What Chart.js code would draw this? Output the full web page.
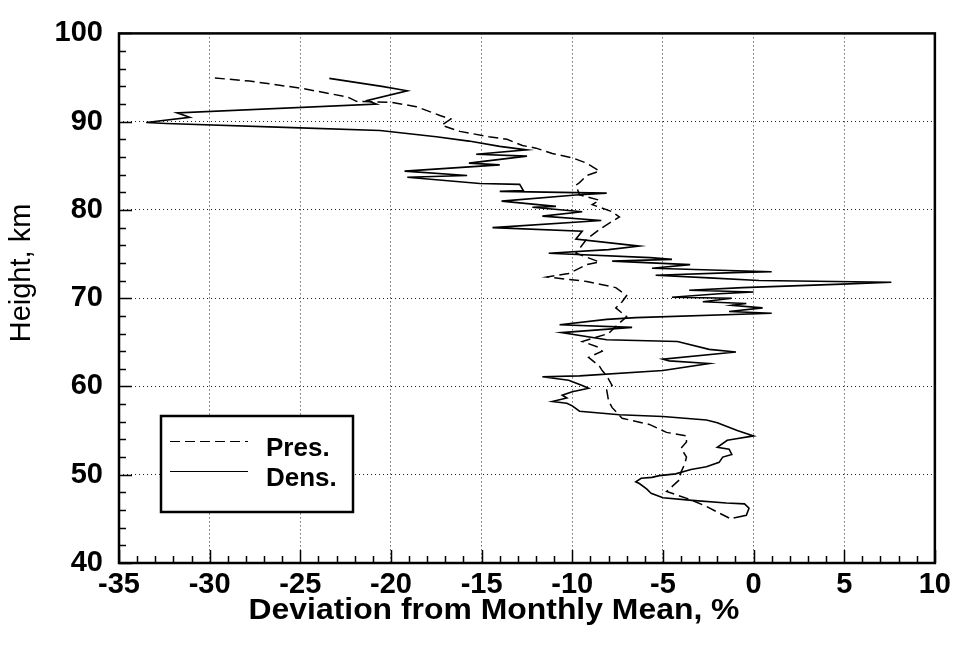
<!DOCTYPE html>
<html>
<head>
<meta charset="utf-8">
<script src="https://cdn.jsdelivr.net/npm/chart.js@4.4.0/dist/chart.umd.min.js"></script>
<style>
  html, body { margin: 0; padding: 0; background: #fff; }
  #wrap { width: 956px; height: 654px; }
</style>
</head>
<body>
<div id="wrap"><canvas id="c" width="956" height="654"></canvas></div>
<script>
// Axis ranges and tick steps
const xRange = [-35, 10];
const yRange = [40, 100];
const xStep = 5;
const yStep = 10;

// Axis titles
const xTitle = 'Deviation from Monthly Mean, %';
const yTitle = 'Height, km';

// Pressure deviation profile (%), with matching heights (km)
const presDev = [-1.35, -2.6, -3.5, -4.8, -4.1, -4.0, -3.8, -3.7, -4.0, -3.7, -3.7, -4.8, -5.75, -7.25, -7.8, -8.0,
  -8.1, -7.8, -8.1, -8.35, -8.5, -9.1, -8.35, -8.5, -9.45, -8.0, -7.5, -7.0, -7.6, -7.25, -7.0, -7.6, -9.2, -11.4,
  -10.2, -9.2, -8.5, -9.8, -9.2, -8.5, -7.8, -7.4, -7.8, -8.9, -8.5, -9.6, -9.8, -9.6, -9.2, -8.5, -9.2, -10.0,
  -11.1, -12.0, -12.75, -13.6, -14.6, -16.2, -17.2, -16.7, -17.3, -18.6, -20.0, -21.9, -22.4, -25.0, -27.8, -30.0];
const presHeight = [45.1, 46.4, 47.2, 48.1, 49.4, 50.3, 51.2, 52.0, 53.0, 53.7, 54.4, 54.8, 55.7, 56.4, 57.6, 58.4,
  59.6, 60.1, 61.2, 61.8, 62.3, 63.3, 64.0, 64.4, 65.1, 66.0, 67.0, 67.9, 68.9, 69.6, 70.3, 71.2, 71.9, 72.4,
  72.8, 73.8, 74.1, 75.1, 76.7, 77.8, 78.7, 79.2, 79.8, 80.6, 81.1, 81.7, 82.8, 83.1, 83.9, 84.4, 85.3, 85.9,
  86.4, 87.0, 87.3, 88.0, 88.3, 88.9, 89.6, 90.3, 90.7, 91.7, 92.2, 92.3, 92.8, 93.8, 94.6, 95.0];

// Density deviation profile (%), with matching heights (km)
const densDev = [-1.1, -0.4, -0.25, -0.5, -1.5, -3.4, -5.0, -5.65, -5.9, -6.3, -6.5, -6.2, -5.6, -5.2, -4.3, -3.45,
  -2.6, -1.9, -1.7, -1.2, -1.35, -2.0, -1.45, -1.2, 0.0, -0.9, -2.0, -2.6, -5.0, -7.4, -9.6, -10.0, -10.3, -11.1,
  -10.3, -10.55, -10.0, -9.1, -9.45, -10.2, -11.65, -9.6, -5.0, -2.45, -4.65, -5.0, -0.97, -2.45, -4.2, -8.1,
  -10.6, -6.7, -10.7, -8.1, -6.5, 1.0, -1.35, 0.5, -1.2, -0.4, -2.8, -1.2, -4.5, -1.9, 0.0, -3.55, -0.6, 4.9, 7.6,
  0.3, -2.45, -5.4, -1.1, 1.0, -5.6, -3.5, -7.8, -4.5, -5.7, -11.3, -8.0, -6.3, -9.8, -9.45, -14.4, -8.4, -11.65,
  -9.45, -12.2, -10.9, -13.9, -9.8, -8.1, -14.0, -12.7, -12.9, -15.1, -19.1, -15.8, -19.25, -14.0, -15.7, -12.5,
  -15.3, -12.5, -14.0, -15.7, -17.5, -20.6, -25.0, -32.4, -33.5, -31.1, -31.8, -20.8, -21.3, -19.1, -20.5, -23.4];
const densHeight = [45.1, 45.4, 46.2, 46.7, 46.8, 47.1, 47.4, 47.9, 48.4, 49.0, 49.2, 49.6, 49.7, 49.9, 50.1, 50.6,
  50.9, 51.4, 52.0, 52.3, 52.9, 53.1, 53.9, 54.0, 54.4, 55.0, 55.9, 56.2, 56.6, 56.8, 57.2, 57.8, 58.1, 58.3,
  58.7, 59.0, 59.4, 59.8, 60.1, 60.7, 61.1, 61.2, 61.8, 62.6, 62.9, 63.1, 63.9, 64.2, 65.1, 65.3,
  66.1, 66.7, 67.0, 67.6, 67.8, 68.3, 68.5, 68.9, 69.2, 69.4, 69.6, 70.0, 70.1, 70.5, 70.7, 70.9, 71.2, 71.6, 71.8,
  72.0, 72.3, 72.6, 72.9, 73.0, 73.4, 73.8, 74.2, 74.4, 74.6, 75.1, 75.5, 75.9, 76.7, 77.6, 78.0, 78.8, 79.3,
  79.8, 80.3, 80.4, 81.0, 81.7, 81.9, 82.1, 82.2, 82.9, 83.0, 83.7, 83.9, 84.4, 85.1, 85.3, 86.1,
  86.3, 86.8, 87.2, 87.8, 88.3, 89.0, 89.3, 89.8, 89.9, 90.5, 91.0, 92.0, 92.4, 93.5, 94.0, 94.9];

const seriesLabels = ['Pres.', 'Dens.'];

const FONT = "'Liberation Sans', Arial, Helvetica, sans-serif";

const toPoints = (xs, ys) => xs.map((v, i) => ({ x: v, y: ys[i] }));

// Frame, inward tick marks, axis titles and the boxed legend
const framePlugin = {
  id: 'frame',
  afterDatasetsDraw(chart) {
    const { ctx, chartArea: a, scales } = chart;
    const xs = scales.x, ys = scales.y;
    ctx.save();
    ctx.strokeStyle = '#000';
    ctx.lineWidth = 1.5;
    for (let v = xRange[0]; v <= xRange[1]; v += 1) {
      const px = Math.round(xs.getPixelForValue(v)) + 0.5;
      const len = (v % xStep === 0) ? 13 : 7;
      ctx.beginPath(); ctx.moveTo(px, a.bottom); ctx.lineTo(px, a.bottom - len); ctx.stroke();
    }
    for (let v = yRange[0]; v <= yRange[1]; v += 2) {
      const py = Math.round(ys.getPixelForValue(v)) + 0.5;
      const len = (v % yStep === 0) ? 13 : 7;
      ctx.beginPath(); ctx.moveTo(a.left, py); ctx.lineTo(a.left + len, py); ctx.stroke();
    }
    ctx.lineWidth = 2.5;
    ctx.strokeRect(a.left, a.top, a.right - a.left, a.bottom - a.top);

    // axis titles
    ctx.fillStyle = '#000';
    ctx.textAlign = 'center';
    ctx.textBaseline = 'middle';
    ctx.save();
    ctx.translate(494, 611);
    ctx.scale(1.1, 1);
    ctx.font = 'bold 29px ' + FONT;
    ctx.fillText(xTitle, 0, 0);
    ctx.restore();
    ctx.save();
    ctx.translate(22, 273);
    ctx.rotate(-Math.PI / 2);
    ctx.font = '29px ' + FONT;
    ctx.fillText(yTitle, 0, 0);
    ctx.restore();

    // legend box
    const bx = 161, by = 416, bw = 192, bh = 96;
    ctx.fillStyle = '#fff';
    ctx.fillRect(bx, by, bw, bh);
    ctx.lineWidth = 2.5;
    ctx.strokeRect(bx, by, bw, bh);
    const rows = [441, 471];
    chart.data.datasets.forEach((ds, i) => {
      const y = rows[i] + 0.5;
      ctx.lineWidth = 1.2;
      ctx.setLineDash(ds.borderDash || []);
      ctx.beginPath(); ctx.moveTo(170, y); ctx.lineTo(248, y); ctx.stroke();
      ctx.setLineDash([]);
      ctx.fillStyle = '#000';
      ctx.font = 'bold 26px ' + FONT;
      ctx.textBaseline = 'middle';
      ctx.textAlign = 'left';
      ctx.fillText(ds.label, 266, rows[i] + 8);
    });
    ctx.restore();
  }
};

const gridColor = (ctx, ends) => (ends.includes(ctx.tick && ctx.tick.value) ? 'rgba(0,0,0,0)' : '#222');

new Chart(document.getElementById('c'), {
  type: 'scatter',
  data: {
    datasets: [
      {
        label: seriesLabels[0],
        data: toPoints(presDev, presHeight),
        showLine: true,
        borderColor: '#000',
        borderWidth: 1.5,
        borderDash: [10, 5],
        pointRadius: 0,
        tension: 0
      },
      {
        label: seriesLabels[1],
        data: toPoints(densDev, densHeight),
        showLine: true,
        borderColor: '#000',
        borderWidth: 1.6,
        pointRadius: 0,
        tension: 0
      }
    ]
  },
  options: {
    responsive: false,
    animation: false,
    devicePixelRatio: 1,
    layout: { padding: { left: 0, right: 20, top: 22, bottom: 0 } },
    plugins: { legend: { display: false }, tooltip: { enabled: false } },
    scales: {
      x: {
        type: 'linear',
        min: xRange[0], max: xRange[1],
        afterFit(s) { s.height = 91; },
        ticks: {
          stepSize: xStep,
          color: '#000',
          padding: 5,
          font: { family: FONT, size: 29, weight: 'bold' },
          maxRotation: 0
        },
        grid: {
          drawTicks: false,
          color: (c) => gridColor(c, xRange),
          lineWidth: 1
        },
        border: { display: false, dash: [1, 3] }
      },
      y: {
        type: 'linear',
        min: yRange[0], max: yRange[1],
        afterFit(s) { s.width = 119; },
        ticks: {
          stepSize: yStep,
          color: '#000',
          padding: 16,
          font: { family: FONT, size: 29, weight: 'bold' }
        },
        grid: {
          drawTicks: false,
          color: (c) => gridColor(c, yRange),
          lineWidth: 1
        },
        border: { display: false, dash: [1, 3] }
      }
    }
  },
  plugins: [framePlugin]
});
</script>
</body>
</html>
